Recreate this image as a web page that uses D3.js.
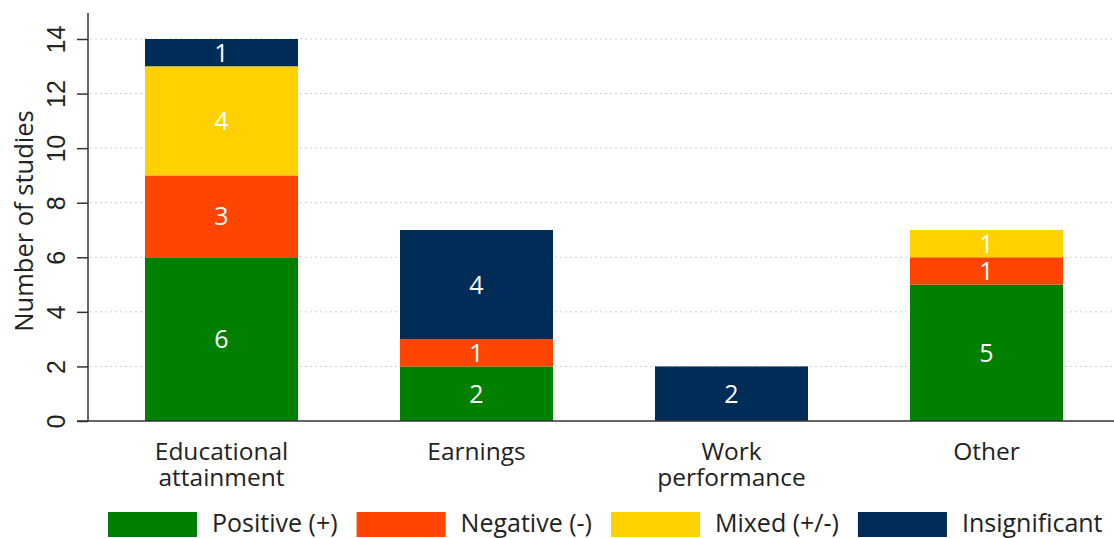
<!DOCTYPE html>
<html>
<head>
<meta charset="utf-8">
<script src="https://cdn.jsdelivr.net/npm/d3@7"></script>
<style>
  html, body { margin: 0; padding: 0; background: #fff; }
  svg { display: block; font-family: "Open Sans", "Noto Sans", sans-serif; }
</style>
</head>
<body>
<div id="chart"></div>
<script>
var categories = [["Educational", "attainment"], ["Earnings"], ["Work", "performance"], ["Other"]];
var seriesNames = ["Positive (+)", "Negative (-)", "Mixed (+/-)", "Insignificant"];
var positive = [6, 2, 0, 5];
var negative = [3, 1, 0, 1];
var mixed = [4, 0, 0, 1];
var insignificant = [1, 4, 2, 0];
var yTicks = [0, 2, 4, 6, 8, 10, 12, 14];
var colors = ["#008000", "#ff4500", "#ffd100", "#002d57"];

var w = 1114, h = 538;
var svg = d3.select("#chart").append("svg").attr("width", w).attr("height", h);

var x = d3.scaleBand().domain(d3.range(categories.length)).range([94, 1114])
    .paddingInner(0.4).paddingOuter(0.2);
var y = d3.scaleLinear().domain([0, 14]).range([421, 39]);

// grid
svg.append("g").selectAll("line").data(yTicks.filter(function (d) { return d > 0; }))
    .enter().append("line")
    .attr("x1", 90).attr("x2", w)
    .attr("y1", function (d) { return y(d); }).attr("y2", function (d) { return y(d); })
    .attr("stroke", "#cfcfcf").attr("stroke-width", 1).attr("stroke-dasharray", "2,3");

// stacked bars
var rows = categories.map(function (c, i) {
    return { i: i, v0: positive[i], v1: negative[i], v2: mixed[i], v3: insignificant[i] };
});
var layers = d3.stack().keys(["v0", "v1", "v2", "v3"])(rows);

var g = svg.append("g");
layers.forEach(function (layer, k) {
    layer.forEach(function (d) {
        var val = d[1] - d[0];
        if (val <= 0) return;
        g.append("rect")
            .attr("x", x(d.data.i))
            .attr("width", x.bandwidth())
            .attr("y", y(d[1]))
            .attr("height", y(d[0]) - y(d[1]))
            .attr("fill", colors[k]);
        g.append("text")
            .attr("x", x(d.data.i) + x.bandwidth() / 2)
            .attr("y", (y(d[0]) + y(d[1])) / 2)
            .attr("dy", "0.36em")
            .attr("text-anchor", "middle")
            .attr("fill", "#fff")
            .attr("font-size", 25)
            .text(val);
    });
});

// y axis
var yAxis = d3.axisLeft(y).tickValues(yTicks).tickSize(11).tickPadding(9);
var ya = svg.append("g").attr("transform", "translate(88,0)").call(yAxis);
ya.select(".domain").remove();
ya.append("line").attr("x1", 0).attr("x2", 0).attr("y1", 13).attr("y2", y(0)).attr("stroke", "#333").attr("stroke-width", 1.5);
ya.selectAll(".tick line").attr("stroke", "#333").attr("stroke-width", 1.5);
// rotated labels, baseline on the right, centred on the tick
ya.selectAll(".tick text")
    .attr("font-size", 25).attr("fill", "#222").attr("font-family", null)
    .attr("text-anchor", "middle")
    .attr("x", 0).attr("y", 0).attr("dy", 0)
    .attr("transform", "translate(-23,0) rotate(-90)");

// baseline
svg.append("line").attr("x1", 77).attr("x2", w).attr("y1", y(0)).attr("y2", y(0))
    .attr("stroke", "#333").attr("stroke-width", 1.5);

// axis title
svg.append("text").attr("transform", "translate(33,221) rotate(-90)")
    .attr("text-anchor", "middle").attr("font-size", 25.5).attr("fill", "#222")
    .text("Number of studies");

// category labels
var cl = svg.append("g");
categories.forEach(function (lines, i) {
    lines.forEach(function (s, j) {
        cl.append("text").attr("text-anchor", "middle").attr("font-size", 24.5).attr("fill", "#222")
            .attr("x", x(i) + x.bandwidth() / 2).attr("y", 460 + j * 26).text(s);
    });
});

// legend
var lg = svg.append("g");
var lx = 108;
seriesNames.forEach(function (name, k) {
    lg.append("rect").attr("x", lx).attr("y", 512).attr("width", 89).attr("height", 25).attr("fill", colors[k]);
    var t = lg.append("text").attr("x", lx + 104).attr("y", 532).attr("font-size", 25).attr("fill", "#222").text(name);
    lx += 104 + t.node().getComputedTextLength() + 19;
});
</script>
</body>
</html>
